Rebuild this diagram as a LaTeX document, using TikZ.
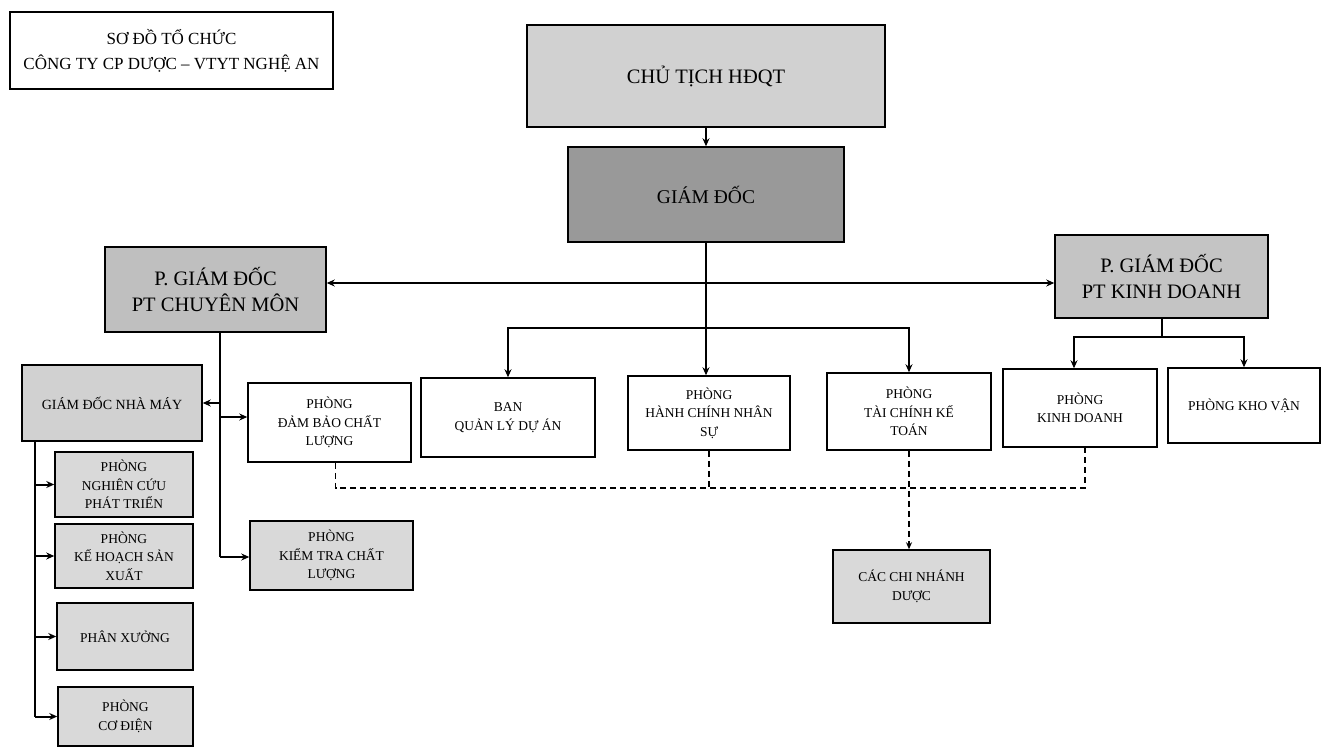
\documentclass[tikz,border=0pt]{standalone}
\usepackage{fontspec}
\setmainfont{Liberation Serif}
\usetikzlibrary{arrows.meta,calc}
\tikzset{
  box/.style={draw=black, line width=1.5pt, inner sep=2pt, align=center, text=black},
  small/.style={font=\fontsize{13.5}{18.5}\selectfont},
  big/.style={font=\fontsize{20.5}{26}\selectfont},
  conn/.style={draw=black, line width=2pt},
  arr/.style={conn, -{Stealth[length=8pt,width=7pt]}},
  darr/.style={conn, {Stealth[length=8pt,width=7pt]}-{Stealth[length=8pt,width=7pt]}},
  dline/.style={draw=black, line width=1.5pt, dash pattern=on 6pt off 4pt},
}
\begin{document}
\begin{tikzpicture}[x=1pt,y=-1pt]
\fill[white] (0,0) rectangle (1323,750);
\useasboundingbox (0,0) rectangle (1323,750);

% title
\node[box, fill=white, minimum width=323pt, minimum height=77pt, font=\fontsize{17}{25}\selectfont] (title) at (171.5,50.5) {SƠ ĐỒ TỔ CHỨC\\CÔNG TY CP DƯỢC – VTYT NGHỆ AN};

% top
\node[box, fill=black!18, minimum width=358pt, minimum height=102pt, font=\fontsize{20.5}{26}\selectfont] (ct) at (706,76) {CHỦ TỊCH HĐQT};
\node[box, fill=black!40, minimum width=276pt, minimum height=95pt, font=\fontsize{19.5}{26}\selectfont] (gd) at (706,194.5) {GIÁM ĐỐC};

% deputies
\node[box, big, fill=black!25, minimum width=221pt, minimum height=85pt] (pcm) at (215.5,289.5) {P. GIÁM ĐỐC\\PT CHUYÊN MÔN};
\node[box, big, fill=black!23, minimum width=213pt, minimum height=83pt] (pkd) at (1161.5,276.5) {P. GIÁM ĐỐC\\PT KINH DOANH};

% middle row
\node[box, fill=black!18, minimum width=180pt, minimum height=76pt, font=\fontsize{14}{18.5}\selectfont] (gdnm) at (112,403) {GIÁM ĐỐC NHÀ MÁY};
\node[box, small, fill=white, minimum width=163pt, minimum height=79pt] (dbcl) at (329.5,422.5) {PHÒNG\\ĐẢM BẢO CHẤT\\LƯỢNG};
\node[box, small, fill=white, minimum width=174pt, minimum height=79pt] (ban) at (508,417.5) {BAN\\QUẢN LÝ DỰ ÁN};
\node[box, small, fill=white, minimum width=162pt, minimum height=74pt] (hcns) at (709,413) {PHÒNG\\HÀNH CHÍNH NHÂN\\SỰ};
\node[box, small, fill=white, minimum width=164pt, minimum height=77pt] (tckt) at (909,411.5) {PHÒNG\\TÀI CHÍNH KẾ\\TOÁN};
\node[box, small, fill=white, minimum width=154pt, minimum height=78pt] (kd) at (1080,408) {PHÒNG\\KINH DOANH};
\node[box, small, fill=white, minimum width=152pt, minimum height=75pt] (kv) at (1244,405.5) {PHÒNG KHO VẬN};

% left column
\node[box, small, fill=black!15, minimum width=138pt, minimum height=65pt] (ncpt) at (124,484.5) {PHÒNG\\NGHIÊN CỨU\\PHÁT TRIỂN};
\node[box, small, fill=black!15, minimum width=138pt, minimum height=64pt] (khsx) at (124,556) {PHÒNG\\KẾ HOẠCH SẢN\\XUẤT};
\node[box, small, fill=black!15, minimum width=136pt, minimum height=67pt] (px) at (125,636.5) {PHÂN XƯỞNG};
\node[box, small, fill=black!15, minimum width=135pt, minimum height=59pt] (cd) at (125.5,716.5) {PHÒNG\\CƠ ĐIỆN};

\node[box, small, fill=black!15, minimum width=163pt, minimum height=69pt] (ktcl) at (331.5,555.5) {PHÒNG\\KIỂM TRA CHẤT\\LƯỢNG};
\node[box, small, fill=black!15, minimum width=157pt, minimum height=73pt] (ccn) at (911.5,586.5) {CÁC CHI NHÁNH\\DƯỢC};

% connectors
\draw[arr] (ct.south) -- (gd.north);
\coordinate (hl) at (0,283);
\draw[darr] (pcm.east |- hl) -- (pkd.west |- hl);
\draw[arr] (gd.south) -- (gd.south |- hcns.north);
\coordinate (br) at (706,328);
\draw[arr] (br) -| (ban.north);
\draw[arr] (br) -| (tckt.north);

\coordinate (kb) at (1161.5,337);
\draw[conn] (pkd.south) -- (kb);
\draw[arr] (kb) -| ([xshift=-6pt]kd.north);
\draw[arr] (kb) -| (kv.north);

% chuyen mon trunk
\coordinate (pt) at (220,557);
\coordinate (t2) at (220,417);
\draw[conn] (pt |- pcm.south) -- (pt);
\draw[arr] (pt |- gdnm.east) -- (gdnm.east);
\draw[arr] (t2) -- (t2 -| dbcl.west);
\draw[arr] (pt) -- (pt -| ktcl.west);

% factory trunk
\coordinate (lt) at (35,717);
\draw[conn] (lt |- gdnm.south) -- (lt);
\draw[arr] (lt |- ncpt.west) -- (ncpt.west);
\draw[arr] (lt |- khsx.west) -- (khsx.west);
\draw[arr] (lt |- px.west) -- (px.west);
\draw[arr] (lt |- cd.west) -- (cd.west);

% dashed
\coordinate (dl) at (0,488);
\draw[dline] ([xshift=6pt]dbcl.south) -- ([xshift=6pt]dbcl.south |- dl) -- ([xshift=5pt]kd.south |- dl) -- ([xshift=5pt]kd.south);
\draw[dline] (hcns.south) -- (hcns.south |- dl);
\draw[dline, -{Stealth[length=7pt,width=6pt]}] (tckt.south) -- (tckt.south |- ccn.north);
\end{tikzpicture}
\end{document}
